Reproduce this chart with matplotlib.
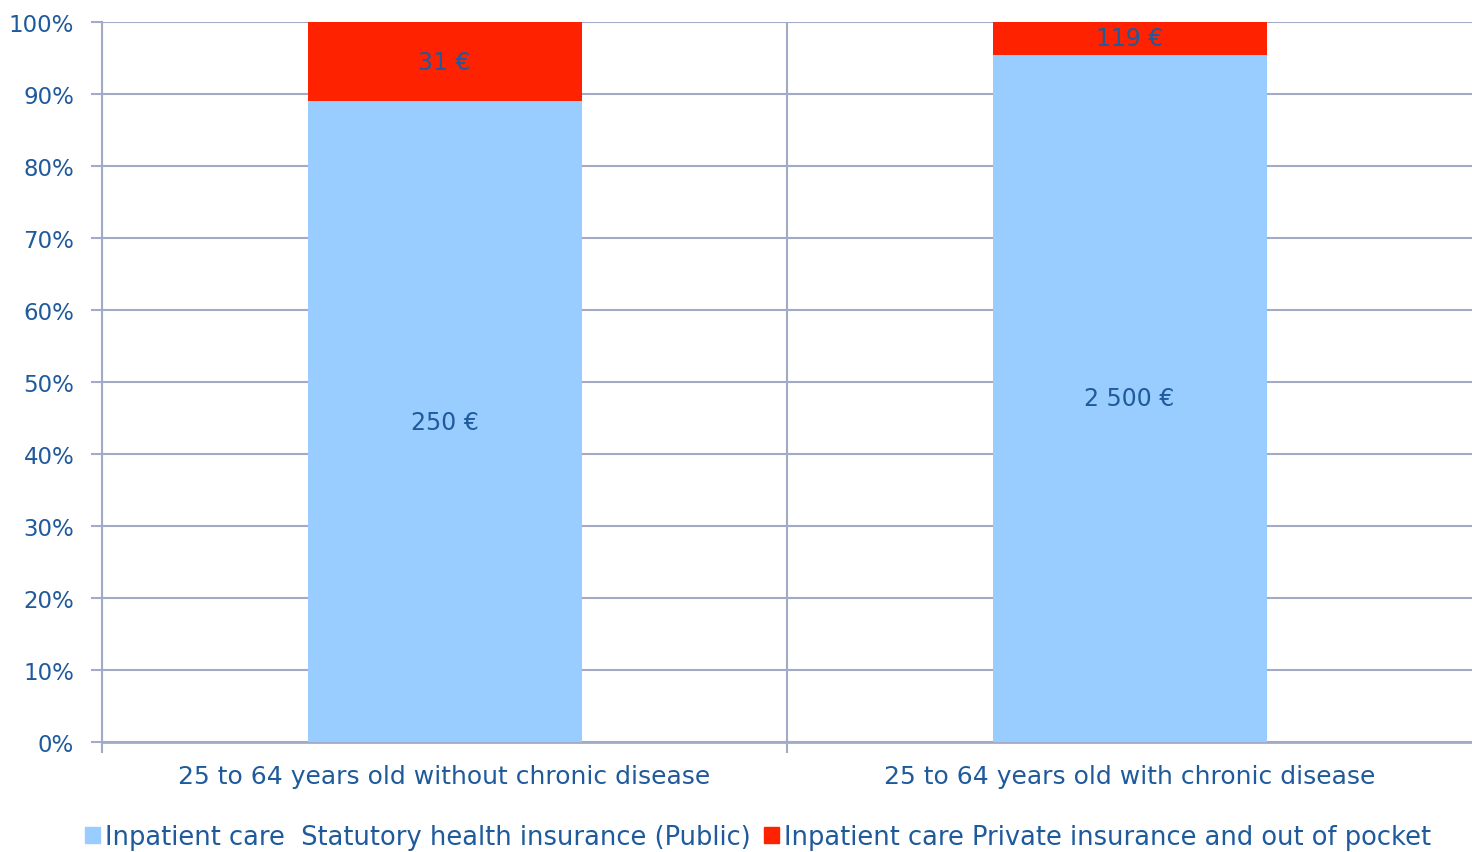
import numpy as np
import matplotlib
matplotlib.use("Agg")
import matplotlib.pyplot as plt
from matplotlib.patches import Patch

# data
categories = ["25 to 64 years old without chronic disease",
              "25 to 64 years old with chronic disease"]
public_eur = [250, 2500]
private_eur = [31, 119]
public_labels = ["250 €", "2 500 €"]
private_labels = ["31 €", "119 €"]
series_names = ["Inpatient care  Statutory health insurance (Public)",
                "Inpatient care Private insurance and out of pocket"]

txt = "#1F5A9C"
grid_c = "#A3AAC8"
blue = "#99CCFF"
red = "#FF2200"

plt.rcParams["font.family"] = ["DejaVu Sans"]

public = np.array(public_eur, dtype=float)
private = np.array(private_eur, dtype=float)
tot = public + private
pub_pct = public / tot * 100
priv_pct = private / tot * 100

fig = plt.figure(figsize=(14.72, 8.53), dpi=100)
ax = fig.add_axes([102 / 1472, 1 - 743 / 853, (1472 - 102) / 1472, (743 - 23) / 853])

x = np.arange(len(categories))
ax.bar(x, pub_pct, width=0.4, color=blue, zorder=3)
ax.bar(x, priv_pct, width=0.4, bottom=pub_pct, color=red, zorder=3)

for i in range(len(x)):
    ax.text(x[i], pub_pct[i] / 2, public_labels[i], ha="center", va="center",
            color=txt, fontsize=17, zorder=4)
    ax.text(x[i], pub_pct[i] + priv_pct[i] / 2, private_labels[i], ha="center",
            va="center", color=txt, fontsize=17, zorder=4)

ax.set_xlim(-0.5, 1.5)
ax.set_ylim(0, 100)
ax.set_yticks(np.arange(0, 101, 10))
ax.set_yticklabels([f"{v}%" for v in range(0, 101, 10)])
ax.yaxis.grid(True, color=grid_c, lw=1.5, zorder=0)
ax.set_xticks(x)
ax.set_xticklabels(categories)
ax.set_xticks([-0.5, 0.5], minor=True)
ax.xaxis.grid(True, which="minor", color=grid_c, lw=1.5, zorder=0)
ax.tick_params(axis="x", which="major", length=0, pad=16, labelsize=18, labelcolor=txt)
ax.tick_params(axis="x", which="minor", length=8, width=1.5, color=grid_c)
ax.tick_params(axis="y", length=8, width=1.5, color=grid_c, labelsize=16.5,
               labelcolor=txt, pad=12)
for s in ["top", "right"]:
    ax.spines[s].set_visible(False)
ax.spines["left"].set_color(grid_c)
ax.spines["left"].set_linewidth(1.5)
ax.spines["bottom"].set_color(grid_c)
ax.spines["bottom"].set_linewidth(2)

handles = [Patch(color=blue), Patch(color=red)]
fig.legend(handles, series_names, loc="center", bbox_to_anchor=(0.515, 1 - 838 / 853),
           ncol=2, frameon=False, fontsize=18.5, labelcolor=txt, handlelength=0.6,
           handleheight=0.6, handletextpad=0.2, columnspacing=0.5)

fig.savefig("out.png", dpi=100)
